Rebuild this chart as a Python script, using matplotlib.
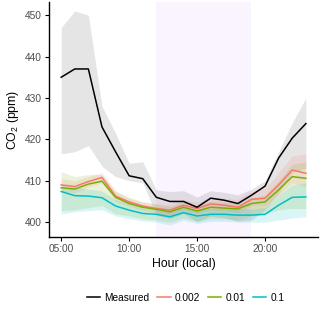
import matplotlib
matplotlib.use("Agg")
import matplotlib.pyplot as plt
from matplotlib.lines import Line2D

plt.rcParams['font.family'] = ['Liberation Sans', 'DejaVu Sans']
plt.rcParams['mathtext.fontset'] = 'custom'
plt.rcParams['mathtext.rm'] = 'Liberation Sans'

# === Data (hourly means) ===
hours = list(range(5, 24))
tick_hours = [5, 10, 15, 20]
tick_labels = ["05:00", "10:00", "15:00", "20:00"]

measured = [435, 437, 437, 423, 417, 411.2, 410.5, 406, 405, 405, 403.6,
            405.8, 405.3, 404.5, 406.5, 408.7, 415.5, 420.3, 423.8]
measured_hi = [447, 451, 450, 428, 421.5, 414.2, 414.6, 407.8, 407.4, 407.6, 406.1,
               407.6, 407.2, 406.6, 408, 410, 417, 424, 430]
measured_lo = [416.5, 417, 418.5, 413.5, 411, 410, 409.5, 401.7, 400.9, 402.1, 400.1,
               401.5, 401.1, 400.2, 400.5, 403, 407, 412, 413]

s002 = [409, 408.6, 409.8, 410.8, 406.3, 404.9, 403.9, 403.3, 402.9, 404.1, 403.3,
        404.4, 404.1, 403.6, 405.5, 405.8, 409, 412.6, 411.8]
s002_hi = [410.5, 410, 411, 412, 407.5, 406, 405, 404.5, 404.3, 405.5, 404.8,
           406, 405.8, 405.5, 407.5, 408, 412, 416, 416.5]
s002_lo = [407.5, 407, 408.5, 409.5, 405, 403.8, 402.8, 402.2, 401.8, 403, 402.2,
           403, 402.8, 402.3, 404, 404, 406.5, 409.5, 408.5]

s01 = [408.3, 408, 409.2, 409.9, 406, 404.5, 403.6, 403.1, 402.5, 403.6, 402.7,
       403.6, 403.4, 403.2, 404.5, 404.9, 407.8, 411, 410.6]
s01_hi = [412.2, 411, 411.5, 411.5, 407.5, 405.8, 404.8, 404.3, 403.8, 404.8, 404,
          405, 404.8, 404.5, 406, 406.5, 410, 414, 414.5]
s01_lo = [402.8, 403, 403.5, 404, 402, 401.5, 400.8, 400.5, 400, 401, 400.2,
          400.8, 400.8, 400.5, 401.5, 402, 403, 403.3, 403.3]

s1 = [407.4, 406.4, 406.3, 405.9, 403.9, 402.9, 402.1, 401.9, 401.3, 402.3, 401.5,
      401.9, 401.9, 401.7, 401.7, 401.9, 404.1, 406, 406.1]
s1_hi = [409, 408.5, 408, 407.5, 405.5, 404.5, 403.5, 403.2, 402.8, 403.7, 403,
         403.3, 403.3, 403.2, 403.2, 403.5, 406.5, 409, 409.5]
s1_lo = [402, 402.5, 402.8, 403, 401.5, 400.8, 400.3, 400, 399.3, 400.5, 399.7,
         400.2, 400.2, 400, 400, 400, 400.5, 401, 401.3]

daytime = (12, 19)

# === Plot ===
fig = plt.figure(figsize=(3.2, 3.14), dpi=100)
ax = fig.add_axes([0.153, 0.245, 0.841, 0.749])

ax.axvspan(daytime[0], daytime[1], color="#FAF4FE", zorder=0, lw=0)

ax.fill_between(hours, measured_lo, measured_hi, color="grey", alpha=0.2, lw=0, zorder=1)
ax.fill_between(hours, s002_lo, s002_hi, color="#F8766D", alpha=0.15, lw=0, zorder=1)
ax.fill_between(hours, s01_lo, s01_hi, color="#7CAE00", alpha=0.15, lw=0, zorder=1)
ax.fill_between(hours, s1_lo, s1_hi, color="#00BFC4", alpha=0.15, lw=0, zorder=1)

ax.plot(hours, s002, color="#F8766D", lw=1.1, zorder=3)
ax.plot(hours, s01, color="#7CAE00", lw=1.1, zorder=3)
ax.plot(hours, s1, color="#00BFC4", lw=1.1, zorder=3)
ax.plot(hours, measured, color="black", lw=1.1, zorder=4)

ax.set_xlim(4.1, 23.9)
ax.set_ylim(396.4, 453.2)
ax.set_xticks(tick_hours)
ax.set_xticklabels(tick_labels)
ax.set_yticks([400, 410, 420, 430, 440, 450])

for side in ["top", "right"]:
    ax.spines[side].set_visible(False)
for side in ["left", "bottom"]:
    ax.spines[side].set_linewidth(1.0)
ax.tick_params(length=3, width=0.8, colors="black", labelcolor="#4D4D4D",
               labelsize=7.3, pad=2)

ax.set_xlabel("Hour (local)", fontsize=8.8, labelpad=3)
ax.set_ylabel(r"CO$_\mathregular{2}$ (ppm)", fontsize=8.8, labelpad=3)

handles = [Line2D([], [], color=c, lw=1.1) for c in ["black", "#F8766D", "#7CAE00", "#00BFC4"]]
labels = ["Measured", "0.002", "0.01", "0.1"]
fig.legend(handles, labels, loc="center", bbox_to_anchor=(0.58, 0.052), ncol=4,
           frameon=False, fontsize=7.3, handlelength=1.3, handletextpad=0.4,
           columnspacing=0.8)

fig.savefig("out.png", dpi=100)
